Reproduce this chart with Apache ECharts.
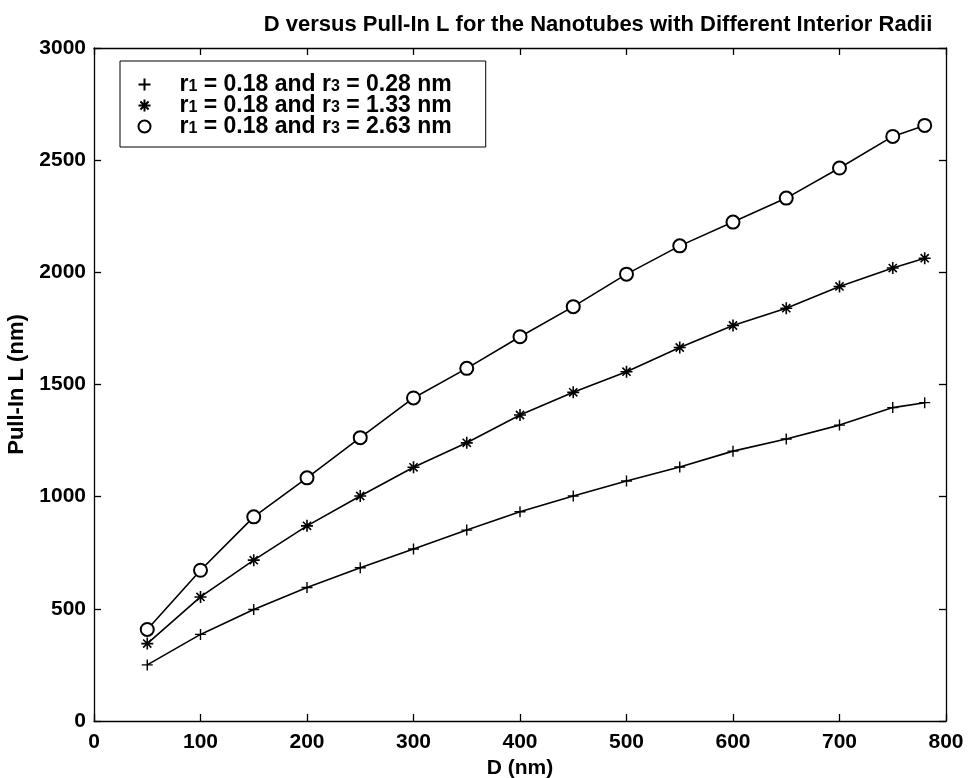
<!DOCTYPE html>
<html>
<head>
<meta charset="utf-8">
<script src="https://cdn.jsdelivr.net/npm/echarts@6/dist/echarts.min.js"></script>
<style>
html,body{margin:0;padding:0;background:#fff;}
#chart{width:969px;height:778px;}
</style>
</head>
<body>
<div id="chart"></div>
<script>
const dValues = [50,100,150,200,250,300,350,400,450,500,550,600,650,700,750,780];
const seriesR028 = [250,386,497,595,683,767,851,933,1003,1070,1132,1203,1257,1319,1397,1419];
const seriesR133 = [345,553,717,870,1003,1131,1240,1364,1465,1557,1665,1763,1840,1937,2019,2063];
const seriesR263 = [408,672,910,1084,1263,1440,1572,1713,1847,1992,2118,2224,2331,2465,2606,2655];
const seriesNames = ['r1 = 0.18 and r3 = 0.28 nm','r1 = 0.18 and r3 = 1.33 nm','r1 = 0.18 and r3 = 2.63 nm'];
const r3Labels = ['0.28','1.33','2.63'];
const xTicks = [0,100,200,300,400,500,600,700,800];
const yTicks = [0,500,1000,1500,2000,2500,3000];

const FONT = '"Liberation Sans", Arial, sans-serif';
const plusPath = 'path://M5,0L5,10M0,5L10,5';
const starPath = 'path://M5,0L5,10M0,5L10,5M1.6,1.6L8.4,8.4M8.4,1.6L1.6,8.4';

function pairs(ys){ return dValues.map((x,i)=>[x, ys[i]]); }

const chart = echarts.init(document.getElementById('chart'));
const axisLine = {show:true, onZero:false, lineStyle:{color:'#000', width:1.3}};
const axisTick = {show:true, inside:true, length:7, lineStyle:{color:'#000', width:1.3}};
const labelStyle = {color:'#000', fontFamily:FONT, fontWeight:'bold', fontSize:21, formatter: v => String(v)};

const symStyles = [
  {symbol: plusPath, symbolSize: 11, itemStyle:{color:'none', borderColor:'#000', borderWidth:1.4}},
  {symbol: starPath, symbolSize: 12, itemStyle:{color:'none', borderColor:'#000', borderWidth:1.6}},
  {symbol: 'emptyCircle', symbolSize: 13, itemStyle:{color:'#000', borderColor:'#000', borderWidth:1.4}}
];
const seriesData = [seriesR028, seriesR133, seriesR263];

chart.setOption({
  backgroundColor:'#fff',
  animation:false,
  title:{
    text:'D versus Pull-In L for the Nanotubes with Different Interior Radii',
    left: 593, top: 9, textAlign:'center',
    textStyle:{color:'#000', fontFamily:FONT, fontWeight:'bold', fontSize:22}
  },
  grid:{left:94, right:23, top:48, bottom:57, containLabel:false, outerBoundsMode:'none'},
  legend:{
    orient:'vertical', left:120, top:61,
    padding:[10,34,9,16],
    itemGap:-4,
    itemWidth:16, itemHeight:12,
    borderColor:'#000', borderWidth:1,
    backgroundColor:'#fff',
    data: seriesNames.map((n,i)=>({name:n, icon: symStyles[i].symbol})),
    formatter: function(name){
      const i = seriesNames.indexOf(name);
      return '{b|r}{s|1}{b| = 0.18 and r}{s|3}{b| = ' + r3Labels[i] + ' nm}';
    },
    textStyle:{
      color:'#000', fontFamily:FONT, fontWeight:'bold', fontSize:23, padding:[0,0,0,22], lineHeight:21,
      rich:{
        b:{color:'#000', fontFamily:FONT, fontWeight:'bold', fontSize:23, lineHeight:21},
        s:{color:'#000', fontFamily:FONT, fontWeight:'bold', fontSize:16, lineHeight:13, verticalAlign:'bottom', padding:[8,0,0,0]}
      }
    }
  },
  xAxis:[{
    type:'value', min:0, max:800, interval:100,
    name:'D (nm)', nameLocation:'middle', nameGap:35,
    nameTextStyle:{color:'#000', fontFamily:FONT, fontWeight:'bold', fontSize:21},
    axisLine, axisTick, splitLine:{show:false},
    axisLabel:Object.assign({margin:11, customValues: xTicks}, labelStyle)
  },{
    type:'value', min:0, max:800, interval:100, position:'top',
    axisLine, axisTick, axisLabel:{show:false}, splitLine:{show:false}
  }],
  yAxis:[{
    type:'value', min:0, max:3000, interval:500,
    name:'Pull-In L (nm)', nameLocation:'middle', nameGap:58, nameRotate:90,
    nameTextStyle:{color:'#000', fontFamily:FONT, fontWeight:'bold', fontSize:22},
    axisLine, axisTick, splitLine:{show:false},
    axisLabel:Object.assign({margin:8, customValues: yTicks}, labelStyle)
  },{
    type:'value', min:0, max:3000, interval:500, position:'right',
    axisLine, axisTick, axisLabel:{show:false}, splitLine:{show:false}
  }],
  series: seriesNames.map((n,i)=>({
    name:n, type:'line', xAxisIndex:0, yAxisIndex:0,
    data: pairs(seriesData[i]),
    symbol: symStyles[i].symbol, symbolSize: symStyles[i].symbolSize,
    showAllSymbol:true,
    lineStyle:{color:'#000', width:1.6},
    itemStyle: symStyles[i].itemStyle,
    emphasis:{disabled:true}
  }))
});
</script>
</body>
</html>
